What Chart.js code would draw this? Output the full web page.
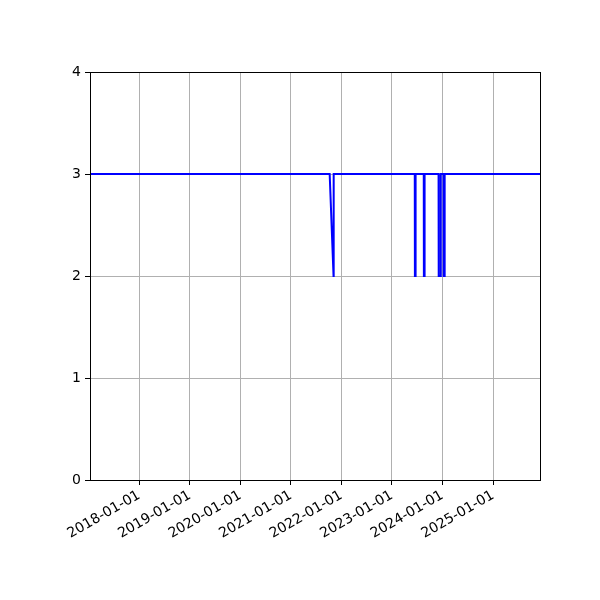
<!DOCTYPE html>
<html>
<head>
<meta charset="utf-8">
<script src="https://cdn.jsdelivr.net/npm/chart.js@4.4.1/dist/chart.umd.min.js"></script>
<style>
  html, body { margin: 0; padding: 0; background: #fff; }
</style>
</head>
<body>
<canvas id="chart" width="600" height="600"></canvas>
<script>
// points (the line stays at 3 except for a few short drops to 2)
const dates = [
    '2017-01-10',
    '2021-10-08', '2021-11-05', '2021-11-06',
    '2023-06-15', '2023-06-16', '2023-06-20', '2023-06-21',
    '2023-08-19', '2023-08-20', '2023-08-24', '2023-08-25',
    '2023-12-04', '2023-12-05', '2023-12-19', '2023-12-20',
    '2024-01-09', '2024-01-10', '2024-01-16', '2024-01-17',
    '2025-12-06'
];
const values = [
    3,
    3, 2, 3,
    3, 2, 2, 3,
    3, 2, 2, 3,
    3, 2, 2, 3,
    3, 2, 2, 3,
    3
];
const xTickLabels = ['2018-01-01', '2019-01-01', '2020-01-01', '2021-01-01',
                     '2022-01-01', '2023-01-01', '2024-01-01', '2025-01-01'];
const yTickLabels = ['0', '1', '2', '3', '4'];

const xMin = Date.parse('2017-01-10');
const xMax = Date.parse('2025-12-06');

const points = dates.map((d, i) => ({ x: Date.parse(d), y: values[i] }));

const frame = {
    id: 'frame',
    afterDraw(chart) {
        const { ctx, chartArea: a } = chart;
        ctx.save();
        ctx.strokeStyle = '#000';
        ctx.lineWidth = 1;
        ctx.strokeRect(Math.round(a.left) + 0.5, Math.round(a.top) + 0.5,
                       Math.round(a.right - a.left), Math.round(a.bottom - a.top));
        ctx.restore();
    }
};

const tickFont = { family: 'DejaVu Sans', size: 14 };

new Chart(document.getElementById('chart').getContext('2d'), {
    type: 'line',
    data: {
        datasets: [{
            data: points,
            borderColor: '#0000ff',
            borderWidth: 2,
            pointRadius: 0,
            tension: 0,
            fill: false
        }]
    },
    options: {
        responsive: false,
        animation: false,
        devicePixelRatio: 1,
        layout: { padding: { left: 0, top: 72, right: 60, bottom: 0 } },
        plugins: { legend: { display: false }, tooltip: { enabled: false } },
        scales: {
            x: {
                type: 'linear',
                min: xMin,
                max: xMax,
                afterBuildTicks: (scale) => {
                    scale.ticks = xTickLabels.map(l => ({ value: Date.parse(l) }));
                },
                afterFit: (scale) => { scale.height = 120; },
                ticks: {
                    autoSkip: false,
                    minRotation: 30,
                    maxRotation: 30,
                    color: '#000',
                    font: tickFont,
                    padding: 2,
                    callback: (v) => {
                        const i = xTickLabels.findIndex(l => Date.parse(l) === v);
                        return i >= 0 ? xTickLabels[i] : '';
                    }
                },
                grid: { color: '#b0b0b0', lineWidth: 1, tickColor: '#000', tickLength: 5 },
                border: { display: false }
            },
            y: {
                min: 0,
                max: 4,
                afterBuildTicks: (scale) => {
                    scale.ticks = yTickLabels.map(l => ({ value: Number(l) }));
                },
                afterFit: (scale) => { scale.width = 90; },
                ticks: {
                    color: '#000',
                    font: tickFont,
                    padding: 4,
                    callback: (v) => String(v)
                },
                grid: { color: '#b0b0b0', lineWidth: 1, tickColor: '#000', tickLength: 5 },
                border: { display: false }
            }
        }
    },
    plugins: [frame]
});
</script>
</body>
</html>
